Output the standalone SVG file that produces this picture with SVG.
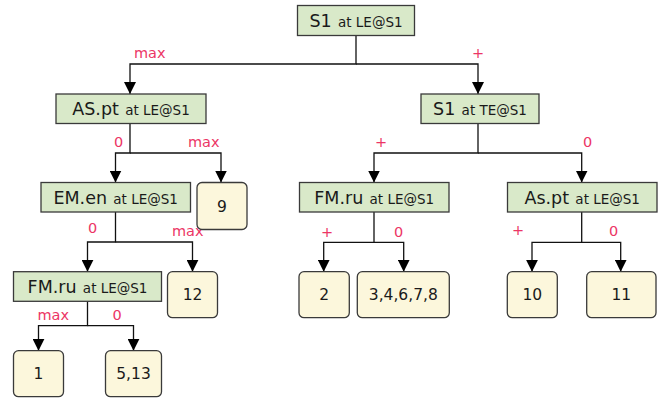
<svg xmlns="http://www.w3.org/2000/svg" width="663" height="403" viewBox="0 0 663 403">
<style>
text{font-family:"DejaVu Sans","Verdana",sans-serif;fill:#1a1a1a}
.g{fill:#d9e9c9;stroke:#3a3a3a;stroke-width:1.3}
.y{fill:#fcf7dc;stroke:#3a3a3a;stroke-width:1.3}
.m{font-size:17.5px}
.s{font-size:13.5px}
.n{font-size:15.5px}
.l{font-size:14.5px;fill:#ec3565}
.c{fill:none;stroke:#111;stroke-width:1.3}
</style>
<defs>
<marker id="a" markerUnits="userSpaceOnUse" markerWidth="12" markerHeight="12" viewBox="0 0 10 10" refX="10" refY="5" orient="auto"><path d="M0,0L10,5L0,10z" fill="#000"/></marker>
</defs>
<g id="connectors">
<path class="c" d="M356 35.5V64H130V94" marker-end="url(#a)"/>
<path class="c" d="M356 64H478V94" marker-end="url(#a)"/>
<path class="c" d="M130 123.5V153H115.5V182.5" marker-end="url(#a)"/>
<path class="c" d="M130 153H221V182.5" marker-end="url(#a)"/>
<path class="c" d="M115.5 212V242H87.5V271.7" marker-end="url(#a)"/>
<path class="c" d="M115.5 242H192.5V271.7" marker-end="url(#a)"/>
<path class="c" d="M87.5 301.3V325.7H38.5V350.7" marker-end="url(#a)"/>
<path class="c" d="M87.5 325.7H133.5V350.7" marker-end="url(#a)"/>
<path class="c" d="M478 123.5V153H374V182.5" marker-end="url(#a)"/>
<path class="c" d="M478 153H581.7V182.5" marker-end="url(#a)"/>
<path class="c" d="M374 212V242.3H323.7V271.7" marker-end="url(#a)"/>
<path class="c" d="M374 242.3H403.7V271.7" marker-end="url(#a)"/>
<path class="c" d="M581.7 212V242.3H532V271.7" marker-end="url(#a)"/>
<path class="c" d="M581.7 242.3H620.7V271.7" marker-end="url(#a)"/>
<text class="l" x="134" y="58">max</text>
<text class="l" x="472" y="58">+</text>
<text class="l" x="114" y="147">0</text>
<text class="l" x="188" y="147">max</text>
<text class="l" x="375" y="147">+</text>
<text class="l" x="583" y="147">0</text>
<text class="l" x="88" y="233">0</text>
<text class="l" x="172" y="236">max</text>
<text class="l" x="321" y="237">+</text>
<text class="l" x="394" y="237">0</text>
<text class="l" x="512" y="235">+</text>
<text class="l" x="609" y="236">0</text>
<text class="l" x="37.5" y="320">max</text>
<text class="l" x="112.5" y="320">0</text>
</g>
<g id="root"><rect class="g" x="297.5" y="5.5" width="117" height="30"/><text x="356" y="27" text-anchor="middle"><tspan class="m">S1</tspan><tspan class="s" dx="2"> at LE@S1</tspan></text></g>
<g id="aspt"><rect class="g" x="56" y="94" width="150" height="29.5"/><text x="131" y="115" text-anchor="middle"><tspan class="m">AS.pt</tspan><tspan class="s" dx="2"> at LE@S1</tspan></text></g>
<g id="s1te"><rect class="g" x="421" y="94" width="118" height="29.5"/><text x="480" y="115" text-anchor="middle"><tspan class="m">S1</tspan><tspan class="s" dx="2"> at TE@S1</tspan></text></g>
<g id="emen"><rect class="g" x="41" y="182.5" width="149.5" height="29.5"/><text x="115.7" y="203.5" text-anchor="middle"><tspan class="m">EM.en</tspan><tspan class="s" dx="2"> at LE@S1</tspan></text></g>
<g id="n9"><rect class="y" x="197" y="182.5" width="50" height="47" rx="5"/><text class="n" x="222" y="211.5" text-anchor="middle">9</text></g>
<g id="fmru1"><rect class="g" x="13.5" y="271.7" width="148" height="29.6"/><text x="87.5" y="292.7" text-anchor="middle"><tspan class="m">FM.ru</tspan><tspan class="s" dx="2"> at LE@S1</tspan></text></g>
<g id="n12"><rect class="y" x="167.5" y="271.7" width="50" height="46" rx="5"/><text class="n" x="192.5" y="300" text-anchor="middle">12</text></g>
<g id="n1"><rect class="y" x="13.5" y="350.7" width="50" height="46" rx="5"/><text class="n" x="38.5" y="379" text-anchor="middle">1</text></g>
<g id="n513"><rect class="y" x="105.5" y="350.7" width="56" height="46" rx="5"/><text class="n" x="133.5" y="379" text-anchor="middle">5,13</text></g>
<g id="fmru2"><rect class="g" x="299.5" y="182.5" width="149.5" height="29.5"/><text x="374.2" y="203.5" text-anchor="middle"><tspan class="m">FM.ru</tspan><tspan class="s" dx="2"> at LE@S1</tspan></text></g>
<g id="aspt2"><rect class="g" x="507.5" y="182.5" width="149.5" height="29.5"/><text x="582.2" y="203.5" text-anchor="middle"><tspan class="m">As.pt</tspan><tspan class="s" dx="2"> at LE@S1</tspan></text></g>
<g id="n2"><rect class="y" x="299" y="271.7" width="50.3" height="46" rx="5"/><text class="n" x="324.2" y="300" text-anchor="middle">2</text></g>
<g id="n34678"><rect class="y" x="357.3" y="271.7" width="92" height="46" rx="5"/><text class="n" x="403.3" y="300" text-anchor="middle">3,4,6,7,8</text></g>
<g id="n10"><rect class="y" x="507.3" y="271.7" width="50" height="46" rx="5"/><text class="n" x="532.3" y="300" text-anchor="middle">10</text></g>
<g id="n11"><rect class="y" x="586.7" y="271.7" width="69.3" height="46" rx="5"/><text class="n" x="621.3" y="300" text-anchor="middle">11</text></g>
</svg>
